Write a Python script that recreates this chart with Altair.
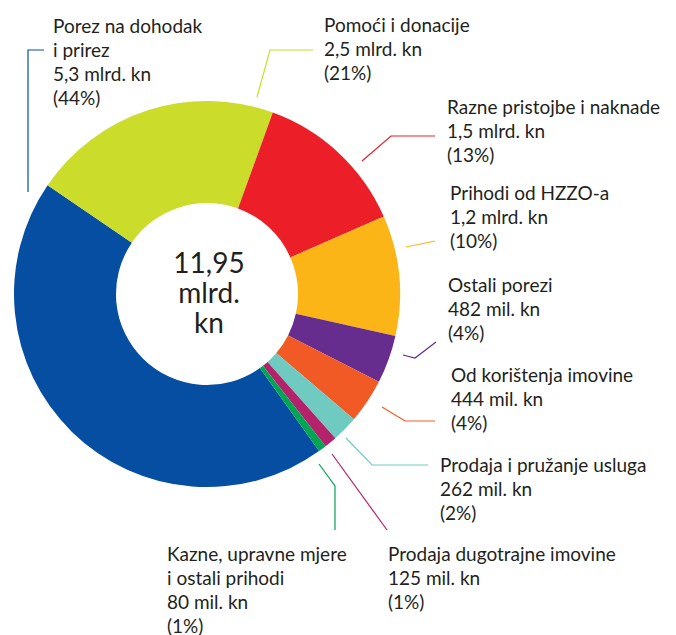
import math
import altair as alt
import pandas as pd

# ---- data -------------------------------------------------------------
categories = [
    "Porez na dohodak i prirez", "Pomoći i donacije", "Razne pristojbe i naknade",
    "Prihodi od HZZO-a", "Ostali porezi", "Od korištenja imovine",
    "Prodaja i pružanje usluga", "Prodaja dugotrajne imovine",
    "Kazne, upravne mjere i ostali prihodi",
]
values_mil = [5305, 2510, 1540, 1202, 482, 444, 262, 125, 80]
name_text = [
    "Porez na dohodak\ni prirez", "Pomoći i donacije", "Razne pristojbe i naknade",
    "Prihodi od HZZO-a", "Ostali porezi", "Od korištenja imovine",
    "Prodaja i pružanje usluga", "Prodaja dugotrajne imovine",
    "Kazne, upravne mjere\ni ostali prihodi",
]
amount_text = ["5,3 mlrd. kn", "2,5 mlrd. kn", "1,5 mlrd. kn", "1,2 mlrd. kn",
               "482 mil. kn", "444 mil. kn", "262 mil. kn", "125 mil. kn", "80 mil. kn"]
pct_text = ["(44%)", "(21%)", "(13%)", "(10%)", "(4%)", "(4%)", "(2%)", "(1%)", "(1%)"]
center_text = "11,95\nmlrd.\nkn"

colors = ["#064ea1", "#cbdc2b", "#ec1f28", "#fbb517", "#662d8f",
          "#f15a25", "#6fcbc1", "#b5226c", "#00a651"]

# ---- layout (pixel positions, separate from values) ----------------------
W, H = 660, 627
CX, CY = 199, 286
R_OUT, R_IN = 193, 91
START_DEG = 144.5
label_pos = [(53, 33), (324, 32), (447, 114), (450, 200), (448, 292),
             (451, 382), (440, 472), (388, 561), (167, 561)]
leaders = [
    [(28, 192), (28, 50), (44, 50)],
    [(257, 97), (270, 50), (313, 50)],
    [(362, 161), (391, 136), (435, 136)],
    [(406, 247), (435, 241)],
    [(403, 355), (415, 358), (436, 342)],
    [(382, 407), (405, 421), (435, 421)],
    [(346, 438), (372, 465), (428, 465)],
    [(332, 454), (387, 530)],
    [(319, 464), (335, 486), (335, 530)],
]

FONT = "Lato"
TXT = "#231f20"

slices = pd.DataFrame({"cat": categories, "value": values_mil,
                       "idx": list(range(len(categories)))})

labels = pd.DataFrame({
    "cat": categories,
    "text": [f"{n}\n{a}\n{p}" for n, a, p in zip(name_text, amount_text, pct_text)],
    "px": [p[0] - 8 for p in label_pos],
    "py": [p[1] - 8 for p in label_pos],
})

rows = []
for c, pts in zip(categories, leaders):
    for k, (x, y) in enumerate(pts):
        rows.append({"cat": c, "k": k, "px": x - 8, "py": y - 8})
lines = pd.DataFrame(rows)

color_scale = alt.Scale(domain=categories, range=colors)
xs = alt.Scale(domain=[0, W])
ys = alt.Scale(domain=[0, H], reverse=True)

a0 = math.radians(START_DEG)
donut = alt.Chart(slices).mark_arc(innerRadius=R_IN, outerRadius=R_OUT, strokeWidth=0).encode(
    theta=alt.Theta("value:Q", stack=True, scale=alt.Scale(range=[a0, a0 + 2 * math.pi])),
    order=alt.Order("idx:Q"),
    color=alt.Color("cat:N", scale=color_scale, legend=None),
    x=alt.value(CX), y=alt.value(CY),
)

leader = alt.Chart(lines).mark_line(strokeWidth=1.2).encode(
    x=alt.X("px:Q", scale=xs, axis=None),
    y=alt.Y("py:Q", scale=ys, axis=None),
    order="k:Q",
    detail="cat:N",
    color=alt.Color("cat:N", scale=color_scale, legend=None),
)

text = alt.Chart(labels).mark_text(
    align="left", baseline="alphabetic", lineBreak="\n", lineHeight=24,
    font=FONT, fontSize=19, fontWeight="normal", color=TXT,
).encode(
    x=alt.X("px:Q", scale=xs, axis=None),
    y=alt.Y("py:Q", scale=ys, axis=None),
    text="text:N",
)

center = alt.Chart(pd.DataFrame({"t": [center_text]})).mark_text(
    align="center", baseline="alphabetic", lineBreak="\n", lineHeight=30,
    font=FONT, fontSize=28, fontWeight="normal", color=TXT,
).encode(
    x=alt.value(201), y=alt.value(265), text="t:N",
)

chart = alt.layer(donut, leader, text, center).properties(
    width=W, height=H, padding=0, autosize=alt.AutoSizeParams(type="none"),
).configure_view(stroke=None)

chart.save("out.html", embed_options={"renderer": "svg", "actions": False})
